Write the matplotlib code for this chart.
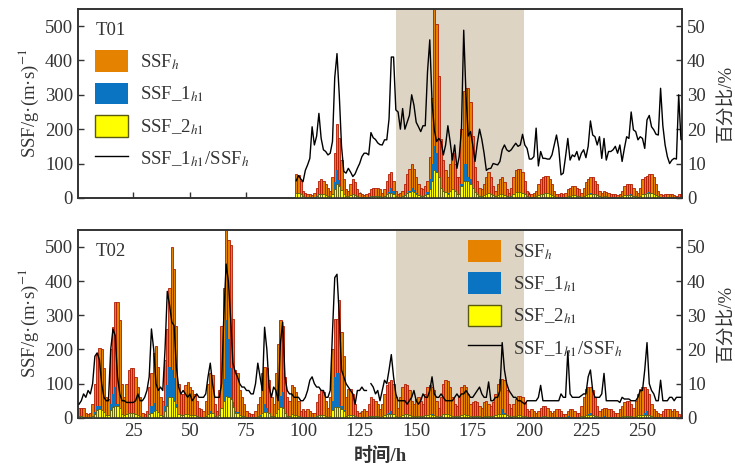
import numpy as np
import matplotlib
matplotlib.use("Agg")
import matplotlib.pyplot as plt
from matplotlib.patches import Patch
from matplotlib.lines import Line2D

plt.rcParams['font.family'] = ['Liberation Serif', 'Noto Sans CJK SC']
plt.rcParams['mathtext.fontset'] = 'stix'
plt.rcParams['font.size'] = 13.5

nan = np.nan

# ---- T01 (data start at hour 97) ----
t01_start = 97
t01_ssf = [70, 68, 50, 20, 15, 12, 10, 8, 15, 30,
           50, 55, 50, 40, 30, 20, 60, 130, 215, 175,
           110, 55, 25, 20, 40, 55, 45, 25, 15, 10,
           8, 10, 15, 25, 30, 30, 28, 25, 15, 25,
           50, 70, 75, 50, 20, 10, 15, 20, 40, 70,
           85, 100, 85, 60, 40, 30, 25, 35, 50, 120,
           290, 550, 505, 355, 170, 110, 80, 60, 100, 130,
           100, 60, 60, 200, 310, 320, 320, 280, 180, 90,
           50, 30, 25, 40, 60, 75, 60, 35, 20, 40,
           55, 60, 45, 25, 15, 30, 60, 80, 85, 85,
           75, 50, 20, 10, 10, 15, 20, 40, 55, 60,
           65, 65, 55, 40, 20, 10, 12, 15, 12, 15,
           25, 30, 35, 35, 30, 25, 15, 30, 45, 55,
           60, 60, 50, 40, 20, 15, 20, 18, 15, 12,
           10, 10, 8, 12, 20, 35, 40, 40, 40, 30,
           20, 15, 30, 55, 60, 65, 70, 70, 60, 40,
           20, 10, 8, 10, 12, 12, 10, 8, 5, 10, 12]
t01_ssf1 = [4, 4, 3, 1, 1, 1, 1, 2, 2, 5,
            12, 10, 7, 5, 4, 3, 10, 45, 80, 52,
            17, 4, 2, 2, 3, 3, 3, 2, 2, 1,
            1, 1, 2, 5, 5, 5, 4, 4, 2, 4,
            8, 16, 30, 20, 5, 3, 3, 5, 8, 15,
            20, 30, 23, 13, 8, 6, 5, 7, 18, 55,
            100, 150, 130, 60, 28, 14, 12, 13, 16, 14,
            15, 5, 7, 40, 100, 100, 60, 54, 28, 10,
            8, 6, 4, 5, 5, 6, 5, 3, 2, 4,
            6, 8, 7, 4, 2, 4, 9, 13, 13, 13,
            14, 8, 3, 1, 1, 2, 4, 4, 7, 7,
            7, 7, 6, 5, 3, 2, 2, 1, 1, 2,
            4, 3, 4, 4, 4, 3, 2, 4, 5, 8,
            13, 11, 9, 6, 4, 2, 3, 2, 2, 2,
            1, 2, 1, 2, 2, 5, 7, 7, 10, 6,
            4, 3, 5, 10, 9, 15, 17, 14, 12, 7,
            4, 3, 1, 2, 1, 1, 1, 1, 1, 3, 2]
t01_ssf2 = [15, 14, 10, 5, 3, 3, 2, 2, 3, 6,
            10, 11, 10, 8, 6, 4, 12, 25, 40, 35,
            22, 11, 5, 4, 8, 11, 9, 5, 3, 2,
            2, 2, 3, 5, 6, 6, 6, 5, 3, 5,
            10, 14, 15, 10, 4, 2, 3, 4, 8, 14,
            17, 20, 17, 12, 8, 6, 5, 7, 10, 25,
            50, 80, 75, 60, 30, 20, 16, 12, 20, 25,
            20, 12, 12, 35, 48, 50, 48, 40, 30, 18,
            10, 6, 5, 8, 12, 15, 12, 7, 4, 8,
            11, 12, 9, 5, 3, 6, 12, 16, 17, 17,
            15, 10, 4, 2, 2, 3, 4, 8, 11, 12,
            13, 13, 11, 8, 4, 2, 2, 3, 2, 3,
            5, 6, 7, 7, 6, 5, 3, 6, 9, 11,
            12, 12, 10, 8, 4, 3, 4, 4, 3, 2,
            2, 2, 2, 2, 4, 7, 8, 8, 8, 6,
            4, 3, 6, 11, 12, 13, 14, 14, 12, 8,
            4, 2, 2, 2, 2, 2, 2, 2, 1, 2, 2]
t01_ratio = [5, 6.5, 5.5, 4.7, 8, 9.6, 11.5, 20.7, 15.4, 18,
             24.6, 17.3, 14, 13.5, 12.5, 13, 16.4, 35, 42, 30,
             15, 7.7, 7.2, 8.6, 7.5, 6.2, 7, 8.6, 10, 12,
             13, 13, 12.5, 19, 17.5, 17, 16, 15.5, 15.4, 16.9,
             16.9, 23, 41, 41, 25.6, 25, 20, 26, 20, 22,
             24, 30, 27, 22, 20.7, 19.3, 21, 21, 36.7, 46,
             28, 19.8, 16.4, 17.3, 16.4, 12.5, 15.4, 21, 16.4, 11,
             15.4, 8.6, 12, 20, 48.8, 30, 18, 19.3, 15.4, 10.6,
             15.9, 20, 17, 13, 8, 8.5, 8.6, 10, 9.8, 9.6,
             10.6, 14, 15.4, 14, 13.5, 14, 15, 15.9, 15, 15.4,
             18.5, 15.4, 14.4, 11.3, 11.3, 12, 20.3, 9.3, 13.5, 11.5,
             11.5, 11.3, 11.3, 12.5, 15.4, 18.3, 14.4, 6.7, 7.2, 12,
             17.3, 11, 12.5, 12, 13.5, 11, 13, 14, 11.7, 15,
             22.4, 18.3, 17.8, 15.4, 17.8, 11.5, 17.3, 11, 13.5, 13.5,
             14, 15, 13, 15.4, 10.6, 14.4, 17.8, 17.3, 25, 19.8,
             19.3, 16.9, 17.8, 17.3, 14.4, 22.7, 24, 20.7, 19.8, 18.5,
             18.3, 31.9, 21, 15.4, 12, 10, 11, 11.5, 11.3, 30, 17]

# ---- T02 (hours 1-267) ----
t02_start = 1
t02_ssf = [30, 30, 28, 15, 12, 15, 40, 100, 190, 205,
           200, 145, 60, 55, 200, 265, 340, 340, 285, 100,
           60, 100, 140, 145, 145, 120, 90, 60, 15, 12,
           20, 90, 130, 190, 210, 150, 60, 50, 170, 260,
           380, 500, 435, 270, 100, 70, 70, 95, 105, 90,
           80, 70, 50, 30, 25, 20, 50, 100, 130, 125,
           40, 20, 80, 270, 380, 550, 520, 505, 290, 140,
           130, 80, 60, 40, 20, 15, 10, 10, 20, 40,
           60, 130, 150, 145, 110, 60, 40, 130, 215, 285,
           270, 120, 60, 50, 95, 90, 75, 50, 20, 25,
           20, 25, 20, 15, 15, 45, 70, 80, 75, 50,
           30, 60, 200, 290, 290, 345, 250, 180, 60, 85,
           85, 70, 40, 20, 15, 20, 25, 20, 40, 60,
           55, 50, 40, 25, 40, 70, 95, 105, 110, 100,
           60, 30, 60, 90, 100, 95, 80, 50, 40, 55,
           60, 50, 40, 70, 90, 95, 90, 80, 50, 30,
           60, 100, 110, 108, 90, 60, 40, 35, 60, 90,
           95, 90, 70, 40, 45, 50, 45, 35, 30, 45,
           50, 40, 35, 45, 70, 100, 115, 115, 110, 80,
           40, 30, 40, 55, 65, 65, 60, 45, 25, 20,
           25, 20, 15, 20, 30, 35, 35, 30, 20, 15,
           20, 25, 25, 20, 10, 10, 20, 25, 25, 20,
           15, 15, 35, 60, 85, 90, 90, 80, 60, 35,
           20, 25, 30, 30, 25, 25, 20, 15, 15, 25,
           35, 45, 50, 50, 40, 30, 50, 70, 85, 90,
           90, 85, 70, 40, 25, 20, 15, 10, 20, 25,
           25, 25, 20, 25, 20, 10, 5]
t02_ssf1 = [1, 1, 2, 1, 1, 1, 4, 18, 36, 35,
            20, 9, 3, 3, 40, 69, 90, 41, 20, 5,
            3, 5, 6, 7, 7, 6, 6, 3, 1, 1,
            2, 11, 34, 42, 21, 12, 5, 4, 34, 96,
            150, 140, 117, 40, 9, 5, 8, 7, 5, 6,
            4, 4, 4, 2, 2, 1, 4, 12, 21, 12,
            2, 1, 5, 27, 114, 285, 230, 146, 46, 19,
            16, 8, 5, 4, 2, 1, 1, 1, 2, 6,
            7, 10, 40, 29, 10, 4, 4, 10, 11, 63,
            76, 14, 5, 4, 7, 5, 5, 3, 1, 1,
            1, 2, 2, 2, 2, 4, 6, 6, 6, 3,
            2, 5, 50, 120, 130, 130, 35, 22, 6, 8,
            7, 5, 2, 2, 1, 2, 2, 2, 3, 6,
            5, 4, 3, 1, 3, 8, 10, 15, 20, 12,
            4, 2, 3, 4, 5, 4, 4, 3, 3, 3,
            2, 2, 3, 4, 5, 8, 11, 6, 3, 2,
            4, 6, 5, 5, 4, 3, 2, 2, 4, 6,
            7, 7, 5, 2, 3, 3, 4, 3, 2, 3,
            3, 4, 2, 2, 4, 6, 9, 25, 15, 8,
            3, 2, 2, 3, 3, 3, 3, 2, 1, 1,
            1, 1, 1, 1, 3, 2, 2, 2, 1, 1,
            1, 1, 1, 1, 1, 1, 4, 2, 2, 1,
            1, 1, 2, 4, 6, 11, 13, 6, 4, 2,
            1, 2, 4, 2, 1, 1, 1, 1, 1, 1,
            2, 2, 3, 3, 2, 2, 3, 4, 7, 7,
            13, 19, 7, 3, 2, 1, 1, 1, 1, 1,
            1, 2, 1, 1, 1, 1, 0]
t02_ssf2 = [4, 4, 3, 2, 2, 2, 5, 12, 22, 25,
            24, 17, 7, 7, 24, 32, 35, 35, 30, 12,
            7, 10, 14, 15, 15, 12, 9, 6, 2, 1,
            2, 10, 15, 20, 22, 16, 7, 6, 20, 35,
            60, 60, 50, 32, 12, 8, 8, 10, 11, 9,
            8, 7, 5, 3, 3, 2, 5, 10, 15, 13,
            4, 2, 9, 30, 50, 65, 60, 55, 32, 15,
            13, 8, 6, 4, 2, 2, 1, 1, 2, 4,
            6, 13, 18, 17, 13, 6, 4, 14, 26, 32,
            30, 13, 6, 5, 10, 9, 8, 5, 2, 3,
            2, 3, 2, 2, 2, 5, 8, 9, 8, 5,
            3, 6, 22, 32, 32, 32, 26, 20, 6, 9,
            9, 7, 4, 2, 2, 2, 3, 2, 4, 6,
            6, 5, 4, 3, 4, 7, 10, 11, 12, 11,
            6, 3, 6, 9, 10, 10, 8, 5, 4, 6,
            6, 5, 4, 7, 9, 10, 9, 8, 5, 3,
            6, 10, 11, 11, 9, 6, 4, 4, 6, 9,
            10, 9, 7, 4, 5, 5, 5, 4, 3, 5,
            5, 4, 4, 5, 7, 10, 12, 12, 11, 8,
            4, 3, 4, 6, 7, 7, 6, 5, 3, 2,
            3, 2, 2, 2, 3, 4, 4, 3, 2, 2,
            2, 3, 3, 2, 1, 1, 2, 3, 3, 2,
            2, 2, 4, 6, 9, 9, 9, 8, 6, 4,
            2, 3, 3, 3, 3, 3, 2, 2, 2, 3,
            4, 5, 5, 5, 4, 3, 5, 7, 9, 9,
            9, 9, 7, 4, 3, 2, 2, 1, 2, 3,
            3, 3, 2, 3, 2, 1, 1]
t02_ratio = [4, 5, 7, 6, 8, 7, 10, 18, 19, 17,
             10, 6, 5, 5, 20, 26, 24, 12, 7, 5,
             5, 4.5, 4.5, 4.5, 4.5, 5, 7, 5, 5, 6,
             8, 12, 26, 20, 10, 8, 9, 8, 20, 37,
             33, 28, 27, 15, 9, 7, 8, 7, 6, 7,
             5, 6, 7, 6, 6, 6, 7, 12, 16, 10,
             6, 6, 6, 10, 30, 45, 40, 29, 16, 13.5,
             12, 10, 9, 9, 8, 8, 7, 7, 10, 16,
             12, 8, 26.5, 20, 9, 6, 9, 8, 5, 22,
             28, 12, 8, 7, 7, 6, 6, 6, 5, 5,
             6, 8, 11, 12, 10, 9, 9, 8, 8, 6,
             6, 8, 25, 41, 42, 30, 14, 12, 10, 9,
             8, 7, 4, 8, 8, 9, 8, 8, nan, 10,
             9, 7, 8, 5, 8, 11, 10, 14, 18.5, 12,
             7, 5, 5, 5, 5, 4, 5, 6, 8, 5,
             4, 5, 7, 6, 6, 8, 12, 7, 6, 6,
             7, 6, 5, 5, 5, 5, 6, 7, 6, 7,
             7, 8, 7, 6, 6, 7, 8, 9, 7, 6,
             6, 10.5, 5, 5, 6, 6, 8, 22, 14, 10,
             8, 7, 6, 6, 5, 5, 4.5, 4, 5, 5,
             5, 5, 5, 6, 9.5, 5, 5, 5, 5, 5,
             5, 5, 5, 7, 6, 6, 19.5, 7, 6, 6,
             6, 6, 6.5, 7, 7, 12, 14, 8, 6, 6,
             6, 7, 13, 5, 5, 5, 5, 5, 5, 4.5,
             6, 5.5, 5.5, 5.5, 5, 5, 5, 6, 8, 8,
             14, 22, 10, 8, 7, 5, 5, 11, 5, 5,
             5, 6, 6, 5, 6, 6, 6]

shade_start, shade_end = 141, 197.5

c_total = '#e58200'
c_s1 = '#0a73c2'
c_s2 = '#ffff00'
c_shade = '#ddd4c4'
c_text = '#333333'

lab_total = 'SSF$_{h}$'
lab_s1 = 'SSF_1$_{h\\mathrm{1}}$'
lab_s2 = 'SSF_2$_{h\\mathrm{1}}$'
lab_ratio = 'SSF_1$_{h\\mathrm{1}}$/SSF$_{h}$'


def draw_panel(ax, start, total, s1, s2, ratio, name, leg_anchor):
    hours = np.arange(start, start + len(total))
    ax.axvspan(shade_start, shade_end, color=c_shade, lw=0, zorder=0)
    ax.bar(hours, total, width=1.0, color=c_total, edgecolor='#b01a08', linewidth=0.6, zorder=2)
    ax.bar(hours, s1, width=1.0, color=c_s1, edgecolor='none', zorder=3)
    ax.bar(hours, s2, width=1.0, color=c_s2, edgecolor='#5a5a10', linewidth=0.6, zorder=4)
    ax.set_xlim(0.5, 267.5)
    ax.set_ylim(0, 550)
    ax.set_yticks([0, 100, 200, 300, 400, 500])
    ax.set_xticks([25, 50, 75, 100, 125, 150, 175, 200, 225, 250])
    ax.set_ylabel('SSF/g·(m·s)$^{-1}$', labelpad=3, color=c_text)
    ax.tick_params(direction='in', length=4, width=1, colors=c_text, labelcolor=c_text)
    for s in ax.spines.values():
        s.set_linewidth(1.2)
        s.set_color(c_text)
    ax.text(0.03, 0.93, name, transform=ax.transAxes, ha='left', va='top', color=c_text)

    ax2 = ax.twinx()
    ax2.plot(np.arange(start, start + len(ratio)), ratio, color='black', lw=1.0, zorder=5)
    ax2.set_ylim(0, 55)
    ax2.set_yticks([0, 10, 20, 30, 40, 50])
    ax2.set_ylabel('百分比/%', labelpad=9, color=c_text)
    ax2.tick_params(direction='in', length=4, width=1, colors=c_text, labelcolor=c_text)
    for s in ax2.spines.values():
        s.set_linewidth(1.2)
        s.set_color(c_text)

    handles = [Patch(facecolor=c_total, edgecolor='none'),
               Patch(facecolor=c_s1, edgecolor='none'),
               Patch(facecolor=c_s2, edgecolor='#5a5a10', linewidth=1),
               Line2D([0], [0], color='black', lw=1.0)]
    ax2.legend(handles, [lab_total, lab_s1, lab_s2, lab_ratio], loc='upper left',
               bbox_to_anchor=leg_anchor, frameon=False, handlelength=1.75,
               handleheight=1.4, labelspacing=0.56, handletextpad=0.65,
               fontsize=13.5, labelcolor=c_text)
    return ax2


fig = plt.figure(figsize=(7.35, 4.70), dpi=100)
ax_top = fig.add_axes([0.106, 0.579, 0.822, 0.402])
ax_bot = fig.add_axes([0.106, 0.111, 0.822, 0.400])

draw_panel(ax_top, t01_start, t01_ssf, t01_ssf1, t01_ssf2, t01_ratio, 'T01', (0.0, 0.87))
draw_panel(ax_bot, t02_start, t02_ssf, t02_ssf1, t02_ssf2, t02_ratio, 'T02', (0.618, 1.035))

ax_top.tick_params(labelbottom=False)
ax_bot.set_xlabel('时间/h', labelpad=5, color=c_text, fontweight='bold')

fig.savefig('out.png', dpi=100)
